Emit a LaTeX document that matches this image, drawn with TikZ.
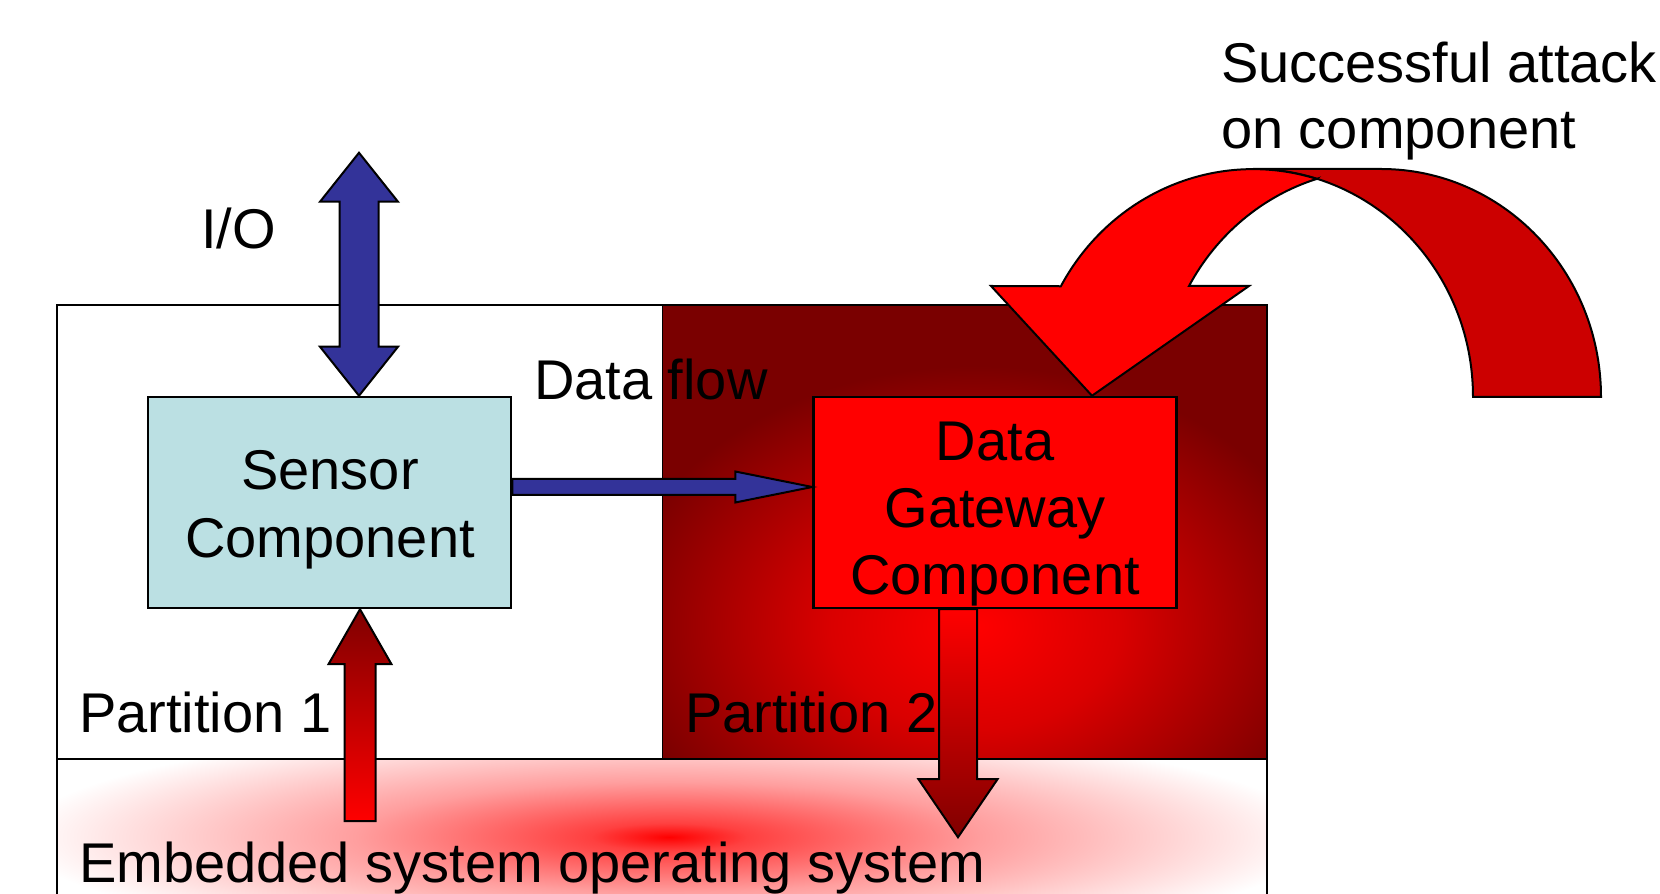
\documentclass[tikz,border=0pt]{standalone}
\usepackage{fontspec}
\setmainfont{Liberation Sans}
\usetikzlibrary{calc}

\definecolor{sensorfill}{RGB}{187,224,227}
\definecolor{arrowblue}{RGB}{51,51,153}
\definecolor{darkred}{RGB}{128,0,0}
\definecolor{ptwodark}{RGB}{122,0,0}
\definecolor{bandred}{RGB}{204,0,0}

% glow used inside the second partition: bright red core, dark red rim
\pgfdeclareradialshading{ptwoglow}{\pgfpoint{0bp}{0bp}}{%
  color(0bp)=(red); color(10bp)=(red!72!ptwodark); color(25bp)=(ptwodark); color(50bp)=(ptwodark)}
% glow of the operating system layer: small red core, wide pale pink halo
\pgfdeclareradialshading{osglow}{\pgfpoint{0bp}{0bp}}{%
  color(0bp)=(red); color(3bp)=(red!75!white); color(12bp)=(red!38!white);
  color(25bp)=(white); color(50bp)=(white)}

\tikzset{
  lbl/.style={font=\fontsize{56}{66}\selectfont, inner sep=0pt, anchor=base west},
  ctext/.style={font=\fontsize{56}{66}\selectfont, inner sep=0pt, anchor=base},
  compbox/.style={draw=black, line width=2.5pt, minimum width=363pt, minimum height=211pt, inner sep=0pt},
  blockarrow/.style={draw=black, line width=2pt, line join=miter},
  frame/.style={draw=black, line width=2pt}
}

\begin{document}
\begin{tikzpicture}[x=1pt,y=1pt]
\useasboundingbox (0,0) rectangle (1660,894);

% operating system layer: soft red glow fading to white
\begin{scope}
  \clip (57,-20) rectangle (1267,135);
  \fill[white] (57,-20) rectangle (1267,135);
  \shade[shading=osglow] (669,57) ellipse [x radius=650, y radius=115];
\end{scope}

% second partition: dark red with a glowing centre
\begin{scope}
  \clip (662,135) rectangle (1267,589);
  \fill[ptwodark] (662,135) rectangle (1267,589);
  \shade[shading=ptwoglow] (975,268) ellipse [x radius=360, y radius=260];
\end{scope}

% partition frame
\draw[frame] (57,-20) -- (57,589) -- (1267,589) -- (1267,-20);
\draw[frame] (57,135) -- (1267,135);
\draw[black, line width=1pt] (662,135) -- (662,589);

% components
\node[compbox, fill=sensorfill] (sensor) at (329.5,391.5) {};
\node[compbox, fill=red] (gw) at (995,391.5) {};

\node[ctext] (s1) at (330,404) {Sensor};
\node[ctext] (s2) at (330,336) {Component};
\node[ctext] (g1) at (995,433) {Data};
\node[ctext] (g2) at (995,366) {Gateway};
\node[ctext] (g3) at (995,299) {Component};

% labels
\node[lbl] (io) at (201,645) {I/O};
\node[lbl] (flow) at (534,494) {Data flow};
\node[lbl] (att1) at (1221,811) {Successful attack};
\node[lbl] (att2) at (1221,745) {on component};
\node[lbl] (p1) at (79,161) {Partition 1};
\node[lbl] (p2) at (685,161) {Partition 2};
\node[lbl] (os) at (79,11) {Embedded system operating system};

% I/O double arrow into the sensor
\coordinate (iotop) at ($(sensor.north)+(29.5,243)$);
\coordinate (iobot) at ($(sensor.north)+(29.5,0)$);
\draw[blockarrow, fill=arrowblue] let \p1=(iotop), \p2=(iobot) in
  (\x1,\y1) -- (\x1+39,\y1-49) -- (\x1+19.5,\y1-49) -- (\x1+19.5,\y2+49) -- (\x1+39,\y2+49)
  -- (\x2,\y2) -- (\x1-39,\y2+49) -- (\x1-19.5,\y2+49) -- (\x1-19.5,\y1-49) -- (\x1-39,\y1-49) -- cycle;

% data flow arrow from sensor to gateway
\coordinate (dfa) at ($(sensor.east)+(0,15.5)$);
\coordinate (dfb) at ($(gw.west)+(0,15.5)$);
\draw[blockarrow, fill=arrowblue] let \p1=(dfa), \p2=(dfb) in
  (\x1,\y1+8) -- (\x2-77,\y1+8) -- (\x2-77,\y1+15.5) -- (\x2,\y2) -- (\x2-77,\y1-15.5)
  -- (\x2-77,\y1-8) -- (\x1,\y1-8) -- cycle;

% attack from the operating system up into the sensor
\coordinate (upt) at ($(sensor.south)+(30.5,0)$);
\coordinate (upb) at ($(sensor.south)+(30.5,-212)$);
\shadedraw[blockarrow, top color=darkred, bottom color=red] let \p1=(upt), \p2=(upb) in
  (\x1,\y1) -- (\x1+31.5,\y1-55) -- (\x1+15.5,\y1-55) -- (\x1+15.5,\y2) -- (\x1-15.5,\y2)
  -- (\x1-15.5,\y1-55) -- (\x1-31.5,\y1-55) -- cycle;

% attack from the gateway down into the operating system
\coordinate (dnt) at ($(gw.south)+(-37,0)$);
\coordinate (dnb) at ($(gw.south)+(-37,-228)$);
\shadedraw[blockarrow, top color=red, bottom color=darkred] let \p1=(dnt), \p2=(dnb) in
  (\x1-19,\y1) -- (\x1+19,\y1) -- (\x1+19,\y2+58) -- (\x1+39.5,\y2+58) -- (\x2,\y2)
  -- (\x1-39.5,\y2+58) -- (\x1-19,\y2+58) -- cycle;

% curved attack arrow onto the gateway: far band, then near band with head
\draw[blockarrow, fill=bandred] (1473,497) arc[start angle=0, end angle=90, x radius=220, y radius=228]
  -- (1381,725) arc[start angle=90, end angle=0, x radius=220, y radius=228] -- cycle;
\coordinate (hit) at ($(gw.north)+(97,0)$);
\draw[blockarrow, fill=red] (1317,715) arc[start angle=73.1, end angle=150.9, x radius=220, y radius=228]
  -- (991,608) -- (hit) -- (1249,608) -- (1189,608)
  arc[start angle=150.9, end angle=106.9, x radius=220, y radius=228] -- cycle;
\end{tikzpicture}
\end{document}
